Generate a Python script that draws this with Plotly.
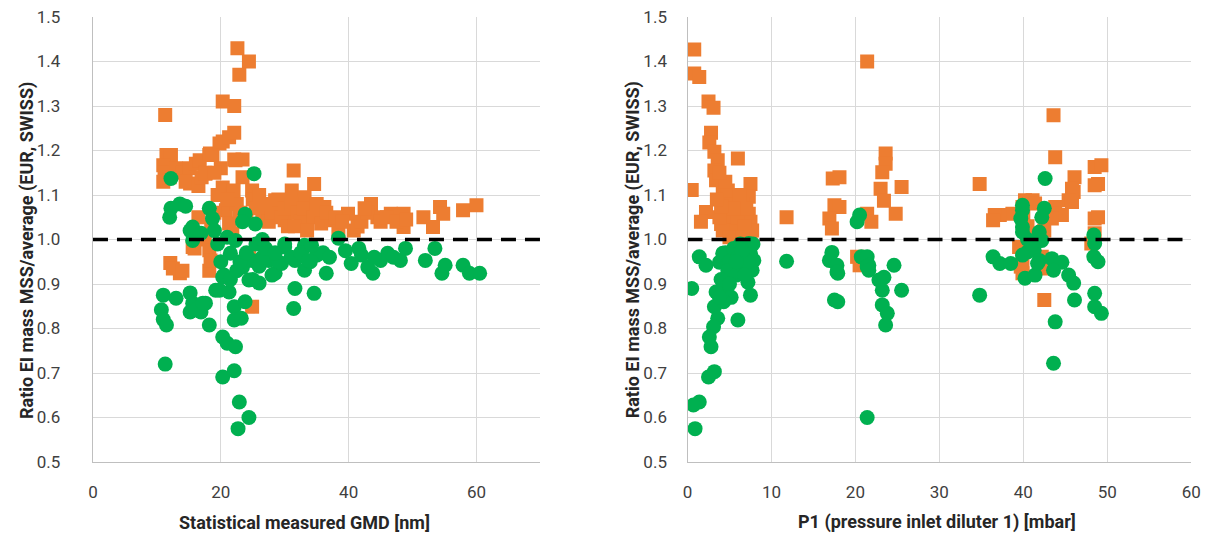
import plotly.graph_objects as go

# ---- Panel 1: ratio vs statistical measured GMD [nm] ----
gmd_sq_x = [
    11.3, 11.5, 12.2, 11.0, 11.2, 11.0, 12.0, 13.0, 14.0, 15.1,
    16.1, 16.7, 17.6, 18.2, 15.2, 14.5, 16.5, 17.0, 18.3, 18.7,
    19.8, 20.3, 21.3, 22.1, 20.3, 22.1, 22.6, 24.4, 22.9, 22.1,
    23.4, 22.3, 23.4, 20.3, 21.8, 20.8, 19.5, 19.0, 18.5, 17.5,
    16.5, 17.6, 24.9, 26.9, 28.5, 30.0, 31.4, 31.1, 33.1, 34.6,
    21.8, 21.3, 15.6, 18.2, 12.1, 13.6, 12.5, 14.0, 18.2, 18.4,
    24.4, 24.9, 15.9, 23.0, 24.0, 25.0, 25.5, 26.0, 26.5, 27.5,
    28.0, 29.0, 29.5, 30.0, 30.5, 31.0, 32.0, 32.5, 33.0, 34.5,
    35.0, 35.7, 36.2, 37.3, 38.4, 39.9, 40.8, 41.4, 43.5, 44.5,
    46.6, 48.6, 48.6, 51.7, 53.2, 54.3, 54.8, 57.9, 60.0, 31.6,
    33.5, 36.5, 38.0, 39.0, 42.0, 43.0, 45.0, 46.0, 47.5, 49.0,
    42.5, 22.5, 22.0, 21.0, 27.0, 20.0, 19.0,
]
gmd_sq_y = [
    1.28, 1.19, 1.19, 1.167, 1.15, 1.13, 1.14, 1.16, 1.15, 1.16,
    1.17, 1.178, 1.15, 1.19, 1.126, 1.13, 1.12, 1.14, 1.193, 1.19,
    1.216, 1.22, 1.23, 1.24, 1.31, 1.30, 1.43, 1.40, 1.37, 1.18,
    1.18, 1.178, 1.14, 1.117, 1.104, 1.066, 1.10, 1.06, 1.03, 1.00,
    1.05, 1.148, 1.11, 1.073, 1.088, 1.043, 1.155, 1.11, 1.095, 1.125,
    1.014, 1.036, 0.983, 0.976, 0.947, 0.924, 0.935, 0.93, 0.93, 0.953,
    0.96, 0.849, 0.98, 1.06, 1.05, 1.09, 1.07, 1.10, 1.05, 1.04,
    1.06, 1.09, 1.05, 1.07, 1.03, 1.08, 1.06, 1.04, 1.07, 1.05,
    1.08, 1.036, 1.073, 1.043, 1.02, 1.058, 1.02, 1.029, 1.08, 1.05,
    1.058, 1.058, 1.028, 1.05, 1.028, 1.073, 1.058, 1.066, 1.077, 1.03,
    1.02, 1.06, 1.05, 1.04, 1.04, 1.06, 1.04, 1.05, 1.04, 1.045,
    1.07, 1.08, 1.11, 1.09, 1.08, 1.16, 1.15,
]
gmd_ci_x = [
    12.2, 25.2, 13.6, 12.2, 12.0, 14.5, 18.2, 18.7, 19.0, 15.6,
    16.1, 15.6, 15.2, 16.9, 21.0, 22.3, 23.8, 23.4, 25.4, 30.0,
    33.1, 11.0, 13.0, 10.7, 11.0, 11.5, 15.2, 15.6, 15.2, 16.9,
    17.6, 18.2, 16.1, 17.2, 11.3, 20.3, 21.0, 22.3, 20.3, 22.1,
    22.9, 24.4, 22.7, 19.2, 21.3, 22.1, 22.1, 23.2, 23.8, 31.4,
    31.6, 34.6, 19.8, 20.3, 21.5, 23.4, 24.9, 24.4, 26.0, 27.5,
    28.5, 29.5, 30.0, 31.6, 33.1, 33.1, 20.5, 21.5, 22.5, 23.0,
    24.0, 25.0, 26.0, 26.5, 28.0, 29.0, 31.0, 32.5, 34.0, 35.0,
    36.0, 37.0, 34.2, 38.4, 33.7, 36.5, 40.4, 41.6, 43.8, 46.1,
    48.1, 48.9, 52.0, 53.5, 54.6, 55.1, 57.9, 58.9, 60.5, 43.0,
    45.0, 39.5, 42.0, 44.0, 47.0, 25.5, 27.0, 20.0, 19.5, 26.5,
    28.5,
]
gmd_ci_y = [
    1.137, 1.148, 1.08, 1.07, 1.05, 1.075, 1.07, 1.047, 1.02, 1.028,
    1.014, 0.998, 1.02, 1.014, 1.005, 0.998, 1.057, 1.04, 1.035, 0.99,
    0.987, 0.875, 0.868, 0.842, 0.82, 0.808, 0.88, 0.857, 0.837, 0.837,
    0.857, 0.808, 0.842, 0.857, 0.72, 0.781, 0.767, 0.759, 0.691, 0.705,
    0.635, 0.60, 0.575, 0.886, 0.882, 0.849, 0.819, 0.823, 0.86, 0.845,
    0.89, 0.879, 0.886, 0.916, 0.969, 0.938, 0.953, 0.909, 0.902, 0.953,
    0.924, 0.946, 0.983, 0.953, 0.983, 0.931, 0.92, 0.91, 0.93, 0.95,
    0.97, 0.91, 0.94, 0.96, 0.92, 0.95, 0.96, 0.97, 0.95, 0.965,
    0.97, 0.96, 0.987, 1.003, 0.953, 0.924, 0.946, 0.98, 0.924, 0.969,
    0.953, 0.98, 0.953, 0.98, 0.924, 0.942, 0.942, 0.924, 0.924, 0.938,
    0.953, 0.975, 0.965, 0.96, 0.96, 0.99, 0.98, 0.95, 0.99, 1.00,
    0.97,
]

# ---- Panel 2: ratio vs P1 (pressure inlet diluter 1) [mbar] ----
p1_sq_x = [
    0.8, 0.8, 1.4, 2.5, 3.1, 2.8, 2.6, 3.2, 3.6, 6.0,
    3.2, 3.4, 0.5, 4.2, 4.4, 7.5, 7.3, 2.2, 1.6, 4.0,
    5.4, 6.1, 7.3, 7.5, 4.9, 6.6, 7.7, 11.8, 4.5, 5.0,
    5.5, 6.0, 6.5, 5.2, 4.8, 5.8, 6.8, 7.0, 4.2, 3.8,
    6.2, 5.5, 7.5, 4.5, 3.8, 5.0, 6.5, 4.0, 3.5, 17.3,
    18.1, 17.5, 18.1, 16.9, 17.2, 21.4, 21.4, 21.9, 23.6, 23.6,
    23.2, 25.5, 23.0, 23.4, 24.8, 20.2, 20.5, 43.6, 43.8, 34.8,
    46.1, 48.5, 49.3, 48.9, 48.5, 45.8, 46.0, 45.4, 45.8, 40.2,
    41.1, 41.4, 39.9, 38.7, 37.2, 36.6, 36.4, 43.8, 44.6, 43.4,
    43.4, 48.5, 48.9, 48.5, 48.1, 39.5, 39.7, 39.9, 39.9, 42.5,
    42.2, 42.5, 42.2, 40.5, 41.5, 40.0, 42.5,
]
p1_sq_y = [
    1.427, 1.373, 1.365, 1.31, 1.296, 1.24, 1.218, 1.197, 1.178, 1.182,
    1.155, 1.133, 1.111, 1.111, 1.088, 1.125, 1.096, 1.062, 1.04, 1.035,
    1.073, 1.058, 1.058, 1.04, 1.028, 1.02, 1.02, 1.05, 1.06, 1.04,
    1.02, 1.05, 1.08, 1.09, 1.11, 1.01, 1.03, 1.07, 1.02, 1.05,
    1.10, 1.07, 1.01, 1.13, 1.15, 1.005, 1.005, 1.075, 1.09, 1.137,
    1.14, 1.077, 1.073, 1.047, 1.025, 1.40, 1.058, 1.04, 1.193, 1.17,
    1.151, 1.118, 1.114, 1.087, 1.058, 0.961, 0.942, 1.279, 1.185, 1.125,
    1.14, 1.163, 1.167, 1.125, 1.122, 1.114, 1.107, 1.088, 1.084, 1.088,
    1.088, 1.081, 1.073, 1.058, 1.055, 1.055, 1.043, 1.073, 1.055, 1.058,
    1.047, 1.047, 1.05, 1.014, 0.991, 0.983, 0.939, 0.924, 0.946, 0.935,
    0.946, 0.864, 0.961, 1.03, 1.00, 1.05, 1.02,
]
p1_ci_x = [
    1.4, 2.2, 0.5, 4.2, 3.8, 5.4, 7.3, 7.5, 7.9, 7.7,
    7.2, 7.5, 6.6, 5.5, 4.6, 3.4, 3.2, 3.6, 3.1, 2.6,
    2.8, 3.2, 2.5, 1.4, 0.7, 0.9, 6.0, 11.8, 4.5, 5.0,
    5.5, 6.0, 6.5, 7.0, 4.8, 5.8, 6.3, 4.0, 5.0, 7.8,
    7.2, 6.8, 5.2, 4.3, 3.8, 6.5, 5.8, 17.2, 16.9, 17.8,
    17.9, 17.8, 17.5, 17.9, 20.5, 20.2, 20.7, 21.4, 21.6, 21.4,
    21.6, 24.6, 23.4, 22.8, 23.2, 25.5, 23.2, 23.8, 23.6, 21.4,
    42.6, 39.9, 39.9, 39.7, 42.5, 42.2, 39.9, 39.9, 41.9, 42.2,
    41.3, 40.5, 39.9, 41.9, 36.4, 37.2, 38.5, 43.4, 44.6, 43.6,
    45.4, 46.0, 46.1, 40.2, 41.4, 41.7, 48.4, 48.5, 48.4, 48.9,
    48.5, 48.5, 49.3, 34.8, 43.8, 43.6, 40.5, 41.0,
]
p1_ci_y = [
    0.961, 0.942, 0.89, 0.969, 0.949, 0.976, 0.991, 0.969, 0.953, 0.931,
    0.904, 0.875, 0.924, 0.931, 0.886, 0.882, 0.849, 0.823, 0.804, 0.781,
    0.759, 0.703, 0.691, 0.635, 0.628, 0.575, 0.819, 0.951, 0.97, 0.95,
    0.98, 0.96, 0.94, 0.97, 0.93, 0.92, 0.99, 0.91, 0.90, 0.99,
    0.95, 0.92, 0.87, 0.86, 0.87, 0.975, 0.95, 0.971, 0.953, 0.942,
    0.924, 0.927, 0.864, 0.86, 1.055, 1.04, 0.961, 0.961, 0.942, 0.939,
    0.931, 0.942, 0.915, 0.909, 0.886, 0.886, 0.853, 0.834, 0.808, 0.60,
    1.137, 1.077, 1.066, 1.047, 1.07, 1.05, 1.028, 1.017, 1.017, 0.998,
    0.976, 0.972, 0.965, 0.953, 0.961, 0.946, 0.946, 0.957, 0.949, 0.931,
    0.92, 0.902, 0.864, 0.913, 0.92, 0.946, 1.01, 0.991, 0.961, 0.95,
    0.879, 0.849, 0.834, 0.875, 0.815, 0.722, 1.00, 0.99,
]

# reference ratio line and axis settings
ref_ratio = 1.0
gmd_range = [0, 70]
p1_range = [0, 60]
ratio_ticks = [0.5, 0.6, 0.7, 0.8, 0.9, 1.0, 1.1, 1.2, 1.3, 1.4, 1.5]

ORANGE = "#ED7D31"
GREEN = "#00B050"
FONT = "Roboto, Arial, sans-serif"

fig = go.Figure()

for xs, ys, ax, ay in [(gmd_sq_x, gmd_sq_y, "x", "y"), (p1_sq_x, p1_sq_y, "x2", "y2")]:
    fig.add_trace(go.Scatter(x=xs, y=ys, xaxis=ax, yaxis=ay, mode="markers",
                             marker=dict(symbol="square", size=14, color=ORANGE,
                                         line=dict(width=0)),
                             showlegend=False, hoverinfo="x+y"))
for xs, ys, ax, ay in [(gmd_ci_x, gmd_ci_y, "x", "y"), (p1_ci_x, p1_ci_y, "x2", "y2")]:
    fig.add_trace(go.Scatter(x=xs, y=ys, xaxis=ax, yaxis=ay, mode="markers",
                             marker=dict(symbol="circle", size=15, color=GREEN,
                                         line=dict(width=0)),
                             showlegend=False, hoverinfo="x+y"))
for rng, ax, ay in [(gmd_range, "x", "y"), (p1_range, "x2", "y2")]:
    fig.add_trace(go.Scatter(x=rng, y=[ref_ratio, ref_ratio], xaxis=ax, yaxis=ay,
                             mode="lines", line=dict(color="black", width=3.5, dash="15px,9px"),
                             showlegend=False, hoverinfo="skip"))

xcommon = dict(showgrid=True, gridcolor="#d9d9d9", gridwidth=1.3, zeroline=False,
               showline=True, linecolor="#bfbfbf", linewidth=1.3, ticks="",
               ticklabelstandoff=14,
               tickfont=dict(family=FONT, size=17, color="#404040"))
ycommon = dict(range=[0.5, 1.5], tickvals=ratio_ticks, tickformat=".1f",
               showgrid=True, gridcolor="#d9d9d9", gridwidth=1.3, zeroline=False,
               showline=True, linecolor="#bfbfbf", linewidth=1.3, ticks="",
               tickfont=dict(family=FONT, size=17, color="#404040"))

title_font = dict(family=FONT, size=18, color="#262626")

fig.update_layout(
    width=1220, height=536,
    margin=dict(l=0, r=0, t=17, b=74),
    paper_bgcolor="white", plot_bgcolor="white",
    xaxis=dict(domain=[0.073, 0.4443], range=gmd_range, tickvals=[0, 20, 40, 60], **xcommon),
    yaxis=dict(anchor="x", ticklabelstandoff=28, **ycommon),
    xaxis2=dict(domain=[0.5664, 0.9844], range=p1_range,
                tickvals=[0, 10, 20, 30, 40, 50, 60], anchor="y2", **xcommon),
    yaxis2=dict(anchor="x2", ticklabelstandoff=16, **ycommon),
    annotations=[
        dict(text="<b>Ratio EI mass MSS/average (EUR, SWISS)</b>", xref="paper", yref="paper",
             x=22 / 1220, y=0.476, xanchor="center", yanchor="middle",
             textangle=-90, showarrow=False, font=title_font),
        dict(text="<b>Ratio EI mass MSS/average (EUR, SWISS)</b>", xref="paper", yref="paper",
             x=636 / 1220, y=0.476, xanchor="center", yanchor="middle",
             textangle=-90, showarrow=False, font=title_font),
        dict(text="<b>Statistical measured GMD [nm]</b>", xref="paper", yref="paper",
             x=303 / 1220, y=-0.135, xanchor="center", yanchor="middle",
             showarrow=False, font=title_font),
        dict(text="<b>P1 (pressure inlet diluter 1) [mbar]</b>", xref="paper", yref="paper",
             x=944 / 1220, y=-0.135, xanchor="center", yanchor="middle",
             showarrow=False, font=title_font),
    ],
)

fig.write_html("out.html")
